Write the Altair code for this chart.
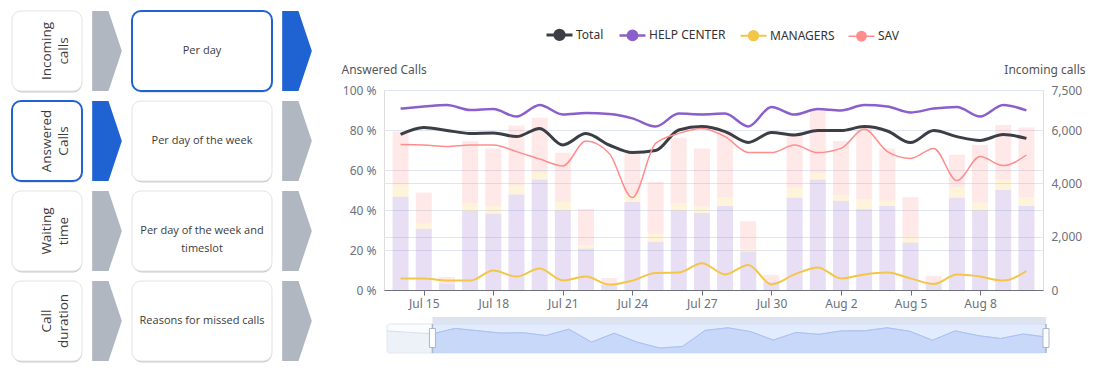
import altair as alt
import pandas as pd

# ---------------- data ----------------
dates = ["Jul 14", "Jul 15", "Jul 16", "Jul 17", "Jul 18", "Jul 19", "Jul 20", "Jul 21",
         "Jul 22", "Jul 23", "Jul 24", "Jul 25", "Jul 26", "Jul 27", "Jul 28", "Jul 29",
         "Jul 30", "Jul 31", "Aug 1", "Aug 2", "Aug 3", "Aug 4", "Aug 5", "Aug 6",
         "Aug 7", "Aug 8", "Aug 9", "Aug 10"]
tick_dates = ["Jul 15", "Jul 18", "Jul 21", "Jul 24", "Jul 27", "Jul 30", "Aug 2", "Aug 5", "Aug 8"]

series = ["Total", "HELP CENTER", "MANAGERS", "SAV"]
line_colors = ["#3b3e44", "#8a5fcb", "#f3c647", "#ff8d8d"]

# answered calls (%)
total_pct = [77.8, 81.3, 79.8, 78.3, 78.5, 76.7, 80.8, 72.5, 78.2, 72.5, 68.7, 69.7, 80.0, 81.7,
             79.2, 73.8, 78.7, 77.5, 79.7, 79.7, 81.7, 79.5, 73.7, 79.7, 76.7, 74.8, 77.7, 75.8]
help_center_pct = [90.7, 91.7, 92.5, 90.0, 90.5, 86.7, 92.5, 87.8, 88.5, 88.0, 85.8, 81.7, 88.2, 87.8,
                   88.2, 81.8, 91.5, 87.7, 90.5, 89.8, 92.5, 91.8, 88.8, 90.7, 91.5, 86.7, 92.5, 89.8]
managers_pct = [5.7, 5.7, 4.7, 4.7, 9.7, 6.7, 10.7, 4.8, 6.7, 2.7, 4.7, 8.5, 8.7, 13.4,
                7.8, 12.5, 2.8, 7.8, 11.3, 5.8, 7.8, 8.7, 5.8, 3.0, 7.7, 6.7, 4.7, 9.5]
sav_pct = [72.7, 72.5, 71.8, 72.5, 72.5, 69.2, 65.5, 62.0, 74.5, 68.3, 46.2, 73.3, 78.3, 80.8,
           76.7, 68.8, 68.7, 72.5, 68.7, 70.8, 80.5, 69.2, 65.8, 70.8, 54.7, 66.7, 62.2, 67.5]

# incoming calls (stacked bars)
bar_series = ["HELP CENTER", "MANAGERS", "SAV"]
help_center_calls = [3500, 2300, 240, 2960, 2860, 3580, 4130, 2980, 1550, 190, 3300, 1810, 2980, 2890,
                     3150, 1440, 310, 3460, 4130, 3350, 3030, 3150, 1780, 290, 3460, 2980, 3750, 3150]
managers_calls = [460, 200, 20, 290, 290, 340, 290, 330, 140, 15, 290, 310, 270, 240,
                  330, 100, 15, 380, 250, 210, 370, 220, 220, 15, 400, 300, 380, 330]
sav_calls = [1980, 1150, 230, 2340, 2160, 2250, 2040, 1840, 1350, 245, 1540, 1930, 2460, 2180,
             2460, 1030, 240, 1970, 2370, 2030, 2660, 1940, 1480, 225, 1210, 2160, 2060, 2610]

# data-zoom overview (Total %, including the two days before the window)
overview_dates = ["Jul 12", "Jul 13"] + dates
overview_total = [79.7, 78.7] + total_pct
window_start = 2

# left navigation panel
nav_categories = ["Incoming\ncalls", "Answered\nCalls", "Waiting\ntime", "Call\nduration"]
nav_views = ["Per day", "Per day of the week", "Per day of the week and\ntimeslot",
             "Reasons for missed calls"]
active_category = 1
active_view = 0

# ---------------- tables ----------------
n = len(dates)
line_rows = []
for s, vals in zip(series, [total_pct, help_center_pct, managers_pct, sav_pct]):
    for i, v in enumerate(vals):
        line_rows.append({"idx": i, "series": s, "pct": v})
lines_df = pd.DataFrame(line_rows)

bar_rows = []
for k, (s, vals) in enumerate(zip(bar_series, [help_center_calls, managers_calls, sav_calls])):
    for i, v in enumerate(vals):
        bar_rows.append({"idx": i, "series": s, "calls": v, "ord": k})
bars_df = pd.DataFrame(bar_rows)

n_ov = len(overview_total)
ov_lo, ov_hi = 65.5, 84.1
ov_df = pd.DataFrame({"sidx": list(range(n_ov)), "val": overview_total,
                      "date": overview_dates, "base": [ov_lo] * n_ov})
ov_sel_df = ov_df[ov_df.sidx >= window_start]
span_df = pd.DataFrame({"a": [0, window_start], "b": [n_ov - 1, n_ov - 1],
                        "kind": ["all", "window"]})
handle_df = pd.DataFrame({"sidx": [window_start, n_ov - 1]})

nav_df = pd.DataFrame({"row": list(range(len(nav_categories))), "cat": nav_categories,
                       "view": nav_views})

FONT = "Noto Sans"
AX = "#6e7079"
GRID = "#e0e6f1"
BLUE = "#1f63d3"
GRAY_CHEV = "#b1b7c1"

label_expr = "[" + ",".join("'%s'" % d for d in dates) + "][datum.value]"
xscale = alt.Scale(domain=[-0.5, n - 0.5], nice=False, zero=False)
xaxis = alt.Axis(values=[dates.index(d) for d in tick_dates], labelExpr=label_expr,
                 grid=False, domainColor=AX, tickColor=AX, tickSize=5, labelColor=AX,
                 labelFontSize=12, labelFont=FONT, labelPadding=3, title=None,
                 labelAngle=0)

bars = alt.Chart(bars_df).mark_bar(size=16, opacity=0.2).encode(
    x=alt.X("idx:Q", scale=xscale, axis=xaxis),
    y=alt.Y("calls:Q", stack="zero",
            scale=alt.Scale(domain=[0, 7500], nice=False),
            axis=alt.Axis(orient="right", values=[0, 2000, 4000, 6000, 7500],
                          labelExpr="format(datum.value, ',')",
                          grid=True, gridColor=GRID, domain=False, ticks=False,
                          labelPadding=8, labelColor=AX, labelFontSize=12, labelFont=FONT,
                          title="Incoming calls", titleAngle=0, titleAlign="right",
                          titleBaseline="middle", titleX=42, titleY=-21,
                          titleFontWeight="normal", titleColor="#555", titleFontSize=12,
                          titleFont=FONT)),
    fill=alt.Fill("series:N", scale=alt.Scale(domain=bar_series, range=line_colors[1:]),
                  legend=None),
    order=alt.Order("ord:Q"),
)

# legend icon: a line through a dot (the dot drawn as tight concentric rings)
rings = "".join("M-%.2f,0A%.2f,%.2f,0,1,0,%.2f,0A%.2f,%.2f,0,1,0,-%.2f,0" % (r, r, r, r, r, r, r)
                for r in [0.36, 0.28, 0.2, 0.12, 0.05])
legend_symbol = "M-1,0L1,0" + rings

lines = alt.Chart(lines_df).mark_line(interpolate="monotone").encode(
    x=alt.X("idx:Q", scale=xscale, axis=xaxis),
    y=alt.Y("pct:Q", scale=alt.Scale(domain=[0, 100], nice=False),
            axis=alt.Axis(orient="left", values=[0, 20, 40, 60, 80, 100],
                          labelExpr="datum.value + ' %'", grid=True, gridColor=GRID,
                          domain=False, ticks=False, labelPadding=8, labelColor=AX,
                          labelFontSize=12, labelFont=FONT,
                          title="Answered Calls", titleAngle=0, titleAlign="left",
                          titleBaseline="middle", titleX=-43, titleY=-21,
                          titleFontWeight="normal", titleColor="#555", titleFontSize=12,
                          titleFont=FONT)),
    color=alt.Color("series:N", scale=alt.Scale(domain=series, range=line_colors),
                    legend=alt.Legend(orient="none", legendX=161, legendY=-70,
                                      direction="horizontal", columns=4, title=None,
                                      symbolType=legend_symbol, symbolSize=676,
                                      symbolStrokeWidth=2, labelFontSize=12,
                                      labelFont=FONT, labelColor="#333", labelOffset=2,
                                      columnPadding=10, padding=0)),
    strokeWidth=alt.StrokeWidth("series:N",
                                scale=alt.Scale(domain=series, range=[3, 1.5, 1.5, 1.5]),
                                legend=None),
)

main = alt.layer(bars, lines).resolve_scale(y="independent")

# ---------------- navigation panel ----------------
navy = alt.Scale(domain=list(range(len(nav_categories))), range=[-84, 276],
                 paddingInner=1 / 9, paddingOuter=1 / 18)
NY = alt.Y("row:O", scale=navy, axis=None)
nav_base = alt.Chart(nav_df)

chevron = "M-0.371,-1L0.037,-1L0.371,0L0.037,1L-0.371,1Z"


def box(x0, x1, active):
    shadow = nav_base.mark_rect(cornerRadius=9, color="#8d8585", opacity=0.45,
                                xOffset=1, yOffset=1.5).encode(
        x=alt.value(x0), x2=alt.value(x1), y=NY)
    face = nav_base.mark_rect(cornerRadius=9, fill="white").encode(
        x=alt.value(x0), x2=alt.value(x1), y=NY,
        stroke=alt.condition("datum.row == %d" % active, alt.value(BLUE), alt.value("#e3e3e3")),
        strokeWidth=alt.condition("datum.row == %d" % active, alt.value(2), alt.value(1)))
    return [shadow, face]


def chev(xc, active):
    return nav_base.mark_point(shape=chevron, size=6400, filled=True, opacity=1,
                               strokeWidth=0).encode(
        x=alt.value(xc), y=NY,
        color=alt.condition("datum.row == %d" % active, alt.value(BLUE), alt.value(GRAY_CHEV)))


cat_text = nav_base.mark_text(angle=270, lineBreak="\n", fontSize=13.5, font="Open Sans",
                              color="#3c3c3c", lineHeight=17, align="center",
                              baseline="middle").encode(
    x=alt.value(-337), y=NY, text="cat:N")
view_text = nav_base.mark_text(lineBreak="\n", fontSize=11, font="Open Sans",
                               color="#3c3c3c", lineHeight=18, align="center",
                               baseline="middle").encode(
    x=alt.value(-182), y=NY, text="view:N")

nav = alt.layer(*box(-372, -302, active_category), chev(-277, active_category),
                *box(-252, -112, active_view), chev(-87, active_view),
                cat_text, view_text)

# ---------------- data-zoom slider ----------------
sx = alt.Scale(domain=[0, n_ov - 1], range=[3, 662], nice=False, zero=False)
sy = alt.Scale(domain=[ov_lo, ov_hi], range=[263, 234], nice=False, zero=False)
SX = alt.X("sidx:Q", scale=sx, axis=None)
SY = alt.Y("val:Q", scale=sy, axis=None)

span = alt.Chart(span_df)
slider_box = span.transform_filter("datum.kind == 'all'").mark_rect(
    fill="#fbfcfe", stroke="#dfe5f0", cornerRadius=3).encode(
    x=alt.X("a:Q", scale=sx, axis=None), x2="b:Q",
    y=alt.value(234), y2=alt.value(263))
ov_area = alt.Chart(ov_df).mark_area(color="#e4e9f3", opacity=0.6,
                                     line={"color": "#d9e0ec", "strokeWidth": 1}).encode(
    x=SX, y=SY, y2="base:Q")
filler = span.transform_filter("datum.kind == 'window'").mark_rect(
    fill="#87affe", opacity=0.2).encode(
    x=alt.X("a:Q", scale=sx, axis=None), x2="b:Q",
    y=alt.value(234), y2=alt.value(263))
sel_area = alt.Chart(ov_sel_df).mark_area(color="#8fb0f7", opacity=0.22,
                                          line={"color": "#a9c1f6", "strokeWidth": 1}).encode(
    x=SX, y=SY, y2="base:Q")
move_bar = span.transform_filter("datum.kind == 'window'").mark_rect(fill="#dde3ef").encode(
    x=alt.X("a:Q", scale=sx, axis=None), x2="b:Q",
    y=alt.value(227), y2=alt.value(234))
edge = alt.Chart(handle_df).mark_rule(color="#aab6cc", strokeWidth=1.5).encode(
    x=SX, y=alt.value(234), y2=alt.value(263))
handles = alt.Chart(handle_df).mark_point(
    shape="M-0.316,-1L0.316,-1L0.316,1L-0.316,1Z", size=361, filled=True,
    fill="white", stroke="#aab6cc", strokeWidth=1, opacity=1).encode(
    x=SX, y=alt.value(248))

slider = alt.layer(slider_box, ov_area, filler, sel_area, move_bar, edge, handles)

chart = alt.layer(main, nav, slider).resolve_scale(
    x="independent", y="independent"
).properties(
    width=659, height=200,
    padding={"left": 384, "top": 90, "right": 66, "bottom": 85},
    autosize=alt.AutoSizeParams(type="none"),
).configure_view(stroke=None).configure(background="white")

chart.save("out.html", embed_options={"renderer": "svg", "actions": False})
